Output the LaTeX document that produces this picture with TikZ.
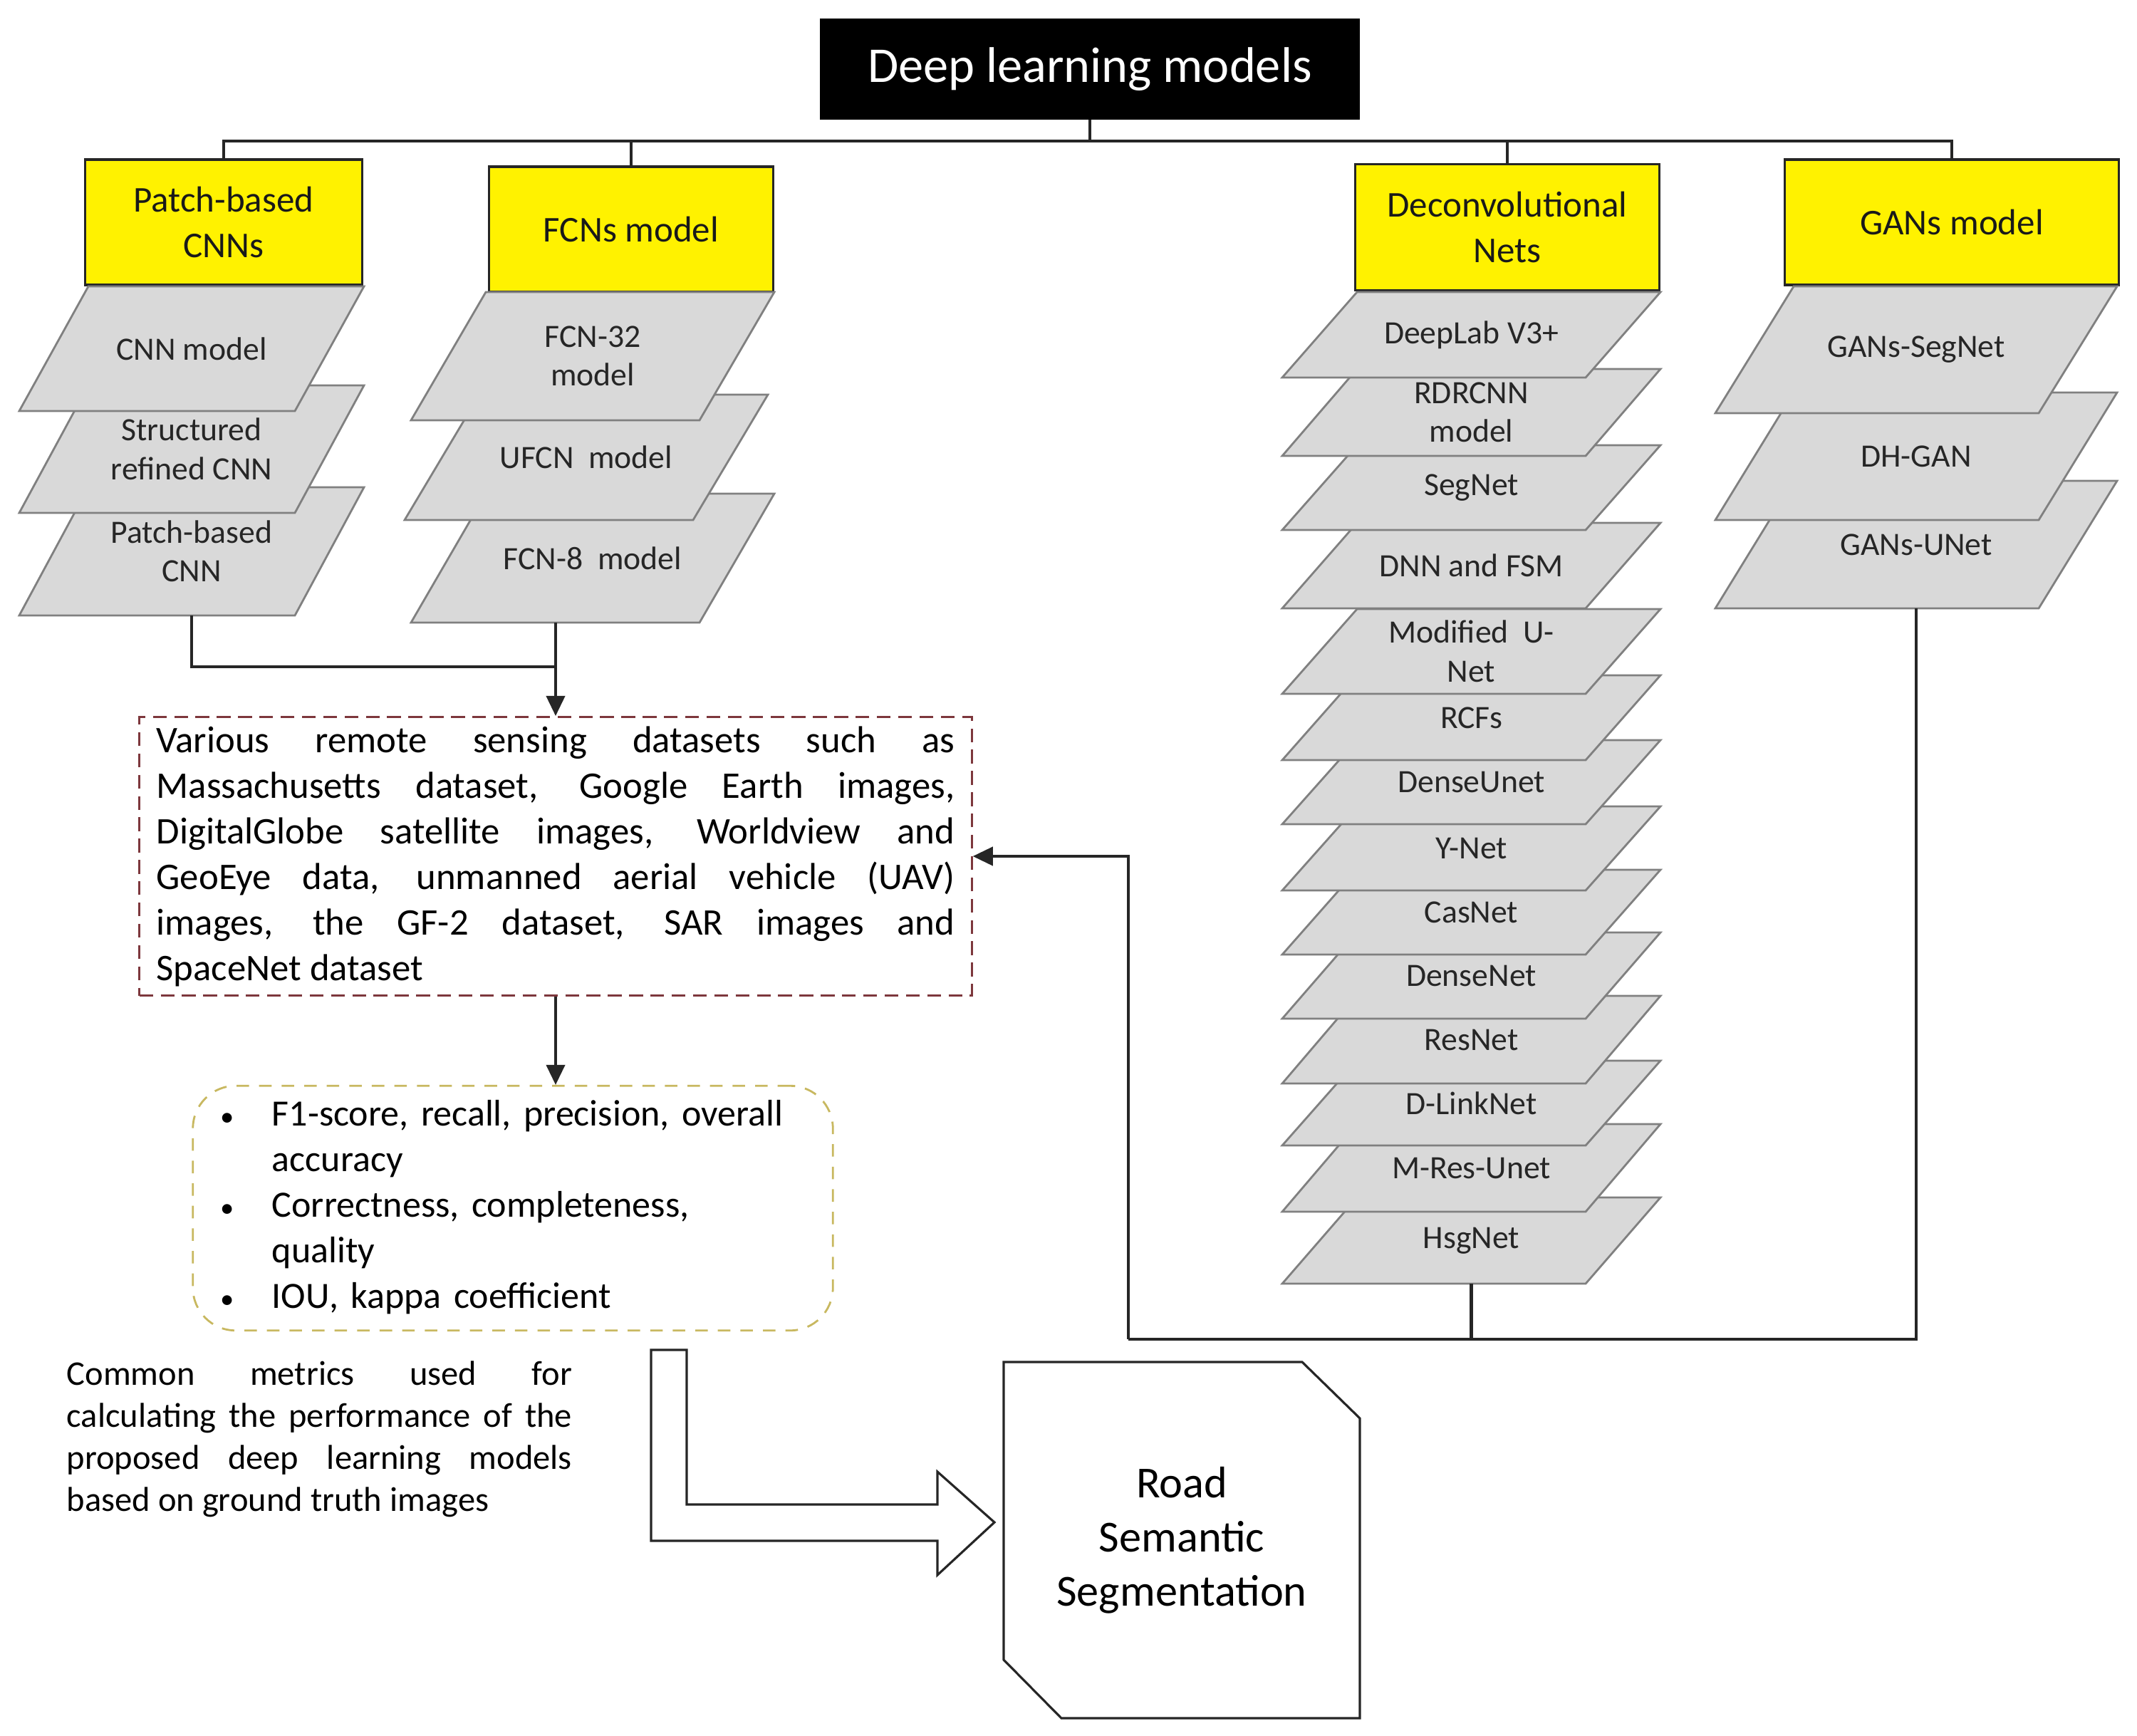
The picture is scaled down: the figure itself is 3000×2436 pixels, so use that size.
\documentclass[tikz,border=0pt]{standalone}
\usepackage{fontspec}
\setmainfont{Carlito}
\usetikzlibrary{arrows.meta}

\definecolor{slabfill}{RGB}{217,217,217}
\definecolor{slabedge}{RGB}{128,128,128}
\definecolor{datared}{RGB}{125,55,60}
\definecolor{metricol}{RGB}{200,184,96}

\tikzset{
  conn/.style={draw=black!85, line width=0.9pt},
  tip/.style={-{Triangle[length=8pt,width=7.5pt]}},
  headbox/.style={draw=black!85, line width=0.9pt, fill=yellow, text=black!90, align=center, font=\fontsize{14.5}{18}\selectfont, inner sep=0pt},
  slabline/.style={fill=slabfill, draw=slabedge, line width=0.8pt},
  slabtext/.style={align=center, text=black!85, font=\fontsize{13}{15.5}\selectfont, inner sep=0pt},
}

% one grey plate of a stack: name, bottom-left x, top y, bottom y, width, slant, text
\newcommand{\slab}[7]{%
  \filldraw[slabline] (#2,#4) -- ++(#5,0) -- ++(#6,#3-#4) -- ++(-#5,0) -- cycle;
  \node[slabtext] (#1) at ({#2+(#5+#6)/2},{(#3+#4)/2}) {#7};
  \coordinate (#1-b) at ({#2+(#5+#6)/2},#4);
}
\newcommand{\dotmark}{\hspace{-2pt}{\fontsize{11}{11}\selectfont\textbullet}}

\begin{document}
\begin{tikzpicture}[x=0.01cm,y=-0.01cm]
\useasboundingbox (0,0) rectangle (3000,2436);

% title and the four families
\node[fill=black, text=white, minimum width=7.57cm, minimum height=1.41cm, font=\fontsize{20}{24}\selectfont] (title) at (1530,97) {Deep learning models};
\node[headbox, minimum width=3.89cm, minimum height=1.76cm] (patch) at (314,312) {Patch-based\\CNNs};
\node[headbox, minimum width=3.99cm, minimum height=1.76cm] (fcn) at (886,322) {FCNs model};
\node[headbox, minimum width=4.27cm, minimum height=1.77cm] (deconv) at (2116,319) {Deconvolutional\\Nets};
\node[headbox, minimum width=4.69cm, minimum height=1.76cm] (gans) at (2740,312) {GANs model};

\coordinate (bus) at (1530,198);
\draw[conn] (title.south) -- (bus);
\draw[conn] (patch.north) |- (bus) -| (gans.north);
\draw[conn] (fcn.north) -- (fcn.north |- bus);
\draw[conn] (deconv.north) -- (deconv.north |- bus);

% stacks, lowest plate first
\foreach \nm/\ya/\yb/\lbl in {pcnn/684/864/{Patch-based\\CNN}, srcnn/541/720/{Structured\\refined CNN}, cnn/402/577/{CNN model}} {
  \slab{\nm}{27}{\ya}{\yb}{387}{97}{\lbl}
}
\slab{fcn8}{577}{693}{874}{405}{105}{FCN-8~~model}
\slab{ufcn}{568}{554}{730}{405}{105}{UFCN~~model}
\slab{fcn32}{577}{410}{590}{405}{105}{FCN-32\\model}
\foreach \nm/\ya/\yb/\lbl in {hsg/1681/1802/HsgNet, mres/1578/1701/M-Res-Unet, dlink/1489/1608/D-LinkNet,
    resnet/1398/1521/ResNet, densenet/1309/1430/DenseNet, casnet/1221/1340/CasNet, ynet/1132/1250/Y-Net,
    denseunet/1039/1157/DenseUnet, rcfs/948/1067/RCFs, munet/855/974/{Modified~~U-\\Net},
    dnn/734/854/DNN and FSM, segnet/625/744/SegNet, rdrcnn/518/640/{RDRCNN\\model}, deeplab/410/530/DeepLab V3+} {
  \slab{\nm}{1800}{\ya}{\yb}{426}{105}{\lbl}
}
\foreach \nm/\ya/\yb/\lbl in {gunet/675/854/GANs-UNet, dhgan/551/730/DH-GAN, gseg/402/580/GANs-SegNet} {
  \slab{\nm}{2408}{\ya}{\yb}{454}{110}{\lbl}
}

% datasets, metrics, result
\node[draw=datared, line width=0.8pt, dash pattern=on 5.5pt off 3pt, minimum width=11.68cm, minimum height=3.91cm,
  text width=11.2cm, align=justify, font=\fontsize{15}{18.2}\selectfont] (data) at (780,1202)
  {\tolerance=10000 Various remote sensing datasets such as\linebreak Massachusetts dataset, Google Earth images,\linebreak
   DigitalGlobe satellite images, Worldview and\linebreak GeoEye data, unmanned aerial vehicle (UAV)\linebreak
   images, the GF-2 dataset, SAR images and\linebreak SpaceNet dataset};
\node[draw=metricol, line width=0.8pt, dash pattern=on 5pt off 4pt, rounded corners=0.6cm, minimum width=8.98cm, minimum height=3.39cm,
  text width=8.06cm, align=left, font=\fontsize{14.8}{18.2}\selectfont] (metrics) at (720,1696)
  {\begin{tabular}{@{}p{0.65cm}@{}l@{}}
   \dotmark & F1-score, recall, precision, overall\\
            & accuracy\\
   \dotmark & Correctness, completeness,\\
            & quality\\
   \dotmark & IOU, kappa coefficient
   \end{tabular}};
\node[anchor=north west, inner sep=0pt, text width=7.09cm, align=justify, font=\fontsize{13.8}{16.8}\selectfont] (note) at (93,1910)
  {\tolerance=10000 Common metrics used for\linebreak calculating the performance of the\linebreak
   proposed deep learning models\linebreak based on ground truth images};
\node[align=center, font=\fontsize{17.7}{21.6}\selectfont] (road) at (1659,2162) {Road\\Semantic\\Segmentation};
\draw[conn] (1409,1912) -- (1828,1912) -- (1909,1991) -- (1909,2412) -- (1490,2412) -- (1409,2330) -- cycle;

\coordinate (join) at (780,936);
\draw[conn] (pcnn-b) |- (join);
\draw[conn, tip] (data.north |- fcn8-b) -- (data.north);
\draw[conn, tip] (data.south) -- (data.south |- metrics.north);

\coordinate (feed) at (1584,1880);
\draw[conn] (gunet-b) |- (feed);
\draw[conn, line width=1.4pt] (hsg-b) -- (hsg-b |- feed);
\draw[conn, tip] (feed) |- (data.east);

% hollow arrow towards the result
\coordinate (bstart) at (939,1895);
\draw[conn] (bstart) ++(-25,0) -- ++(50,0) -- ++(0,217) -- ++(352,0) -- ++(0,-46) -- ++(80,71)
  -- ++(-80,74) -- ++(0,-48) -- ++(-402,0) -- cycle;
\end{tikzpicture}
\end{document}
